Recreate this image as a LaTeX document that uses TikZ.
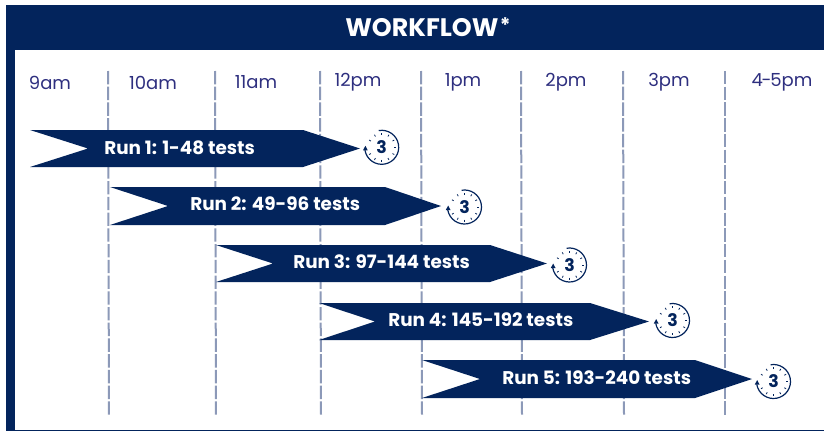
\documentclass[tikz,border=0pt]{standalone}
\usepackage{fontspec}
\setmainfont{Poppins}
\definecolor{navy}{HTML}{03245C}
\definecolor{timec}{HTML}{2E2F7F}
\definecolor{dashc}{HTML}{8C99B8}
\tikzset{
  x=0.75pt,y=-0.75pt,
  runarrow/.style={fill=navy,draw=none},
  runlabel/.style={text=white,font=\fontsize{13.8}{15}\selectfont\bfseries,inner sep=0pt,anchor=west},
  timelabel/.style={text=timec,font=\fontsize{13.5}{16}\selectfont,inner sep=0pt},
  gridline/.style={draw=dashc,line width=1.5pt,dash pattern=on 10pt off 1.8pt},
  clock/.pic={
    \draw[navy,line width=0.9pt] (-100:17) arc[start angle=-100,end angle=170,radius=17];
    \fill[navy] (-18.7,3) -- (-14,3) -- (-16.3,-1.5) -- cycle;
    \foreach \a in {30,60,120,150,210,240,300,330,0,90,270}
      \draw[navy,line width=0.6pt] (\a:12.5) -- (\a:14.5);
    \node[text=navy,font=\fontsize{13}{13}\selectfont\bfseries,inner sep=0pt] (-clocknum) at (0,0) {3};
  }
}
\begin{document}
\begin{tikzpicture}
\useasboundingbox (0,0) rectangle (824,432);
\fill[white] (0,0) rectangle (824,432);
\fill[navy] (6,5) rectangle (824,50);
\fill[navy] (6,50) rectangle (15,431);
\fill[navy] (15,430) rectangle (824,431.2);
\node[text=white,font=\fontsize{19}{20}\selectfont\bfseries,inner sep=0pt,anchor=west] (title) at (345,27) {WORKFLOW\kern1pt\raisebox{3pt}{\fontsize{15}{15}\selectfont *}};
\foreach \n/\xa/\xb in {a/108/109,b/215/216,c/320/321,d/421/422,e/521/522,f/623/624,g/725/725}
  \draw[gridline] (\xa,71) -- (\xb,416);
\foreach \n/\x/\t in {l1/50/9am,l2/153/10am,l3/256/11am,l4/358/12pm,l5/463/1pm,l6/566/2pm,l7/669/3pm}
  \node[timelabel] (\n) at (\x,82.5) {\t};
\node[timelabel] (l8) at (782,82.5) {4\kern-1pt-\kern-1pt5pm};
\fill[runarrow] (30,130) -- (303,130) -- (360,148.5) -- (303,167) -- (30,167) -- (88,148.5) -- cycle;
\fill[runarrow] (110,187) -- (385,187) -- (441,206) -- (385,225) -- (110,225) -- (168,206) -- cycle;
\fill[runarrow] (216,245) -- (490,245) -- (547,263.5) -- (490,282) -- (216,282) -- (273,263.5) -- cycle;
\fill[runarrow] (319,303) -- (590,303) -- (649,321.5) -- (590,340) -- (319,340) -- (375,321.5) -- cycle;
\fill[runarrow] (422,360) -- (695,360) -- (752,379) -- (695,398) -- (422,398) -- (480,379) -- cycle;
\node[runlabel] (r1) at (104,148) {Run 1: 1-48 tests};
\node[runlabel] (r2) at (190,204) {Run 2: 49-96 tests};
\node[runlabel] (r3) at (293,262) {Run 3: 97-144 tests};
\node[runlabel] (r4) at (388,320) {Run 4: 145-192 tests};
\node[runlabel] (r5) at (502,378) {Run 5: 193-240 tests};
\pic (c1) at (381.7,147.3) {clock};
\pic (c2) at (464.5,207) {clock};
\pic (c3) at (569.5,265) {clock};
\pic (c4) at (672.5,320.5) {clock};
\pic (c5) at (773.5,381.5) {clock};
\end{tikzpicture}
\end{document}
